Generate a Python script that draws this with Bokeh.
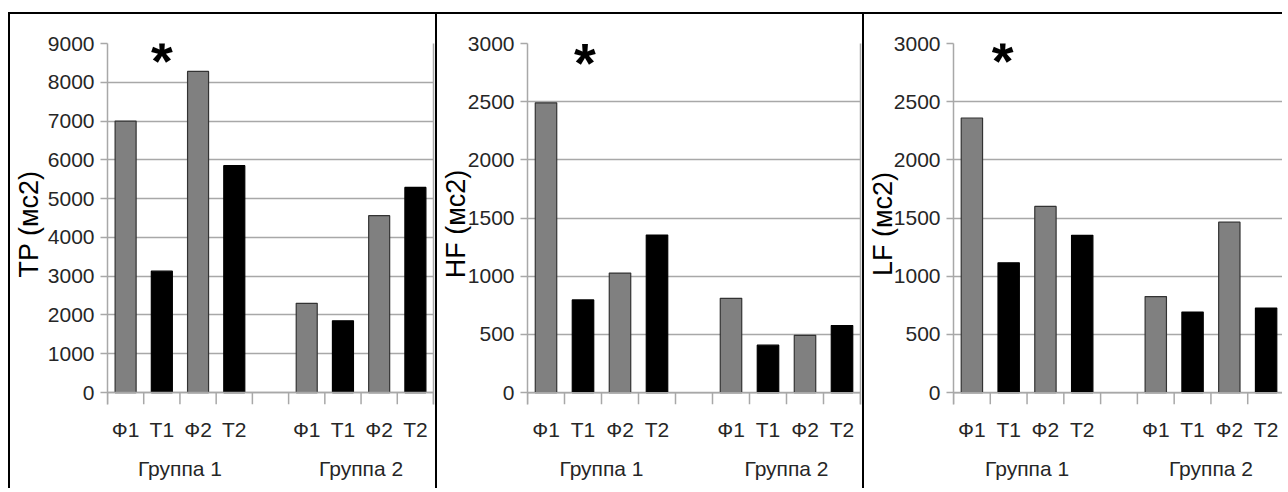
from bokeh.plotting import figure
from bokeh.models import FactorRange, Range1d, LinearAxis, FixedTicker, ColumnDataSource, Span
from bokeh.layouts import row
from bokeh.embed import file_html
from bokeh.resources import INLINE
from bokeh.core.properties import value

groups = ["Группа 1", "Группа 2"]
conditions = ["Ф1", "Т1", "Ф2", "Т2"]
bar_colors = ["#808080", "#000000", "#808080", "#000000"]

tp_values = [7000, 3130, 8280, 5850, 2300, 1850, 4560, 5290]
hf_values = [2490, 797, 1028, 1355, 811, 408, 493, 577]
lf_values = [2360, 1116, 1600, 1352, 826, 693, 1465, 727]

y_titles = ["TP (мс2)", "HF (мс2)", "LF (мс2)"]
y_max = [9000, 3000, 3000]
y_step = [1000, 500, 500]
star_marks = ["*", "*", "*"]

GRID = "#a8a8a8"
LABEL = "#262626"
FONT = "Liberation Sans"
H = 476
TOP = 14  # page y of figure content top


def make_panel(values, title, ymax, ystep, star, width, mbl, mbr, mbt, zero_px,
               star_y, star_dx, title_standoff, right_line, margin_left):
    factors = [(g, c) for g in groups for c in conditions]
    colors = bar_colors * len(groups)
    outline = ["#333333" if c != "#000000" else "#000000" for c in colors]
    frame_bottom = zero_px + 12
    frame_h = frame_bottom - (mbt + TOP)
    zero_h = zero_px - (mbt + TOP)
    ymin = -ymax * (frame_h - zero_h) / zero_h
    p = figure(
        x_range=FactorRange(*factors, factor_padding=0, group_padding=1, range_padding=0),
        y_range=Range1d(ymin, ymax),
        width=width, height=H,
        output_backend="svg", toolbar_location=None,
        min_border_left=mbl, min_border_right=mbr, min_border_top=mbt,
        min_border_bottom=H - (frame_bottom - TOP),
        outline_line_color=None,
    )
    p.styles = {"border-left": "2px solid black", "border-top": "2px solid black",
                "margin-top": "12px", "margin-left": margin_left}
    src = ColumnDataSource(dict(x=factors, top=values, color=colors, line=outline))
    p.vbar(x="x", top="top", width=0.58, source=src, fill_color="color",
           line_color="line", line_width=1.2)

    # zero line and boundary ticks between categories
    p.add_layout(Span(location=0, dimension="width", line_color=GRID, line_width=1.5))
    bx = [(g, c, -0.5) for g in groups for c in conditions]
    bx += [(g, conditions[-1], 0.5) for g in groups]
    p.segment(x0=bx, y0=[0] * len(bx), x1=bx, y1=[ymin] * len(bx),
              line_color=GRID, line_width=1.5)

    p.text(x=[(groups[0], conditions[1])], y=[star_y], text=[star],
           text_font=value(FONT), text_font_size="56px",
           text_font_style="bold", text_align="center", text_baseline="middle",
           x_offset=star_dx, text_color="#000000")

    ticks = list(range(0, ymax + 1, ystep))
    p.yaxis.ticker = FixedTicker(ticks=ticks)
    p.ygrid.ticker = FixedTicker(ticks=ticks)
    p.ygrid.grid_line_color = GRID
    p.ygrid.grid_line_width = 1.5
    p.xgrid.grid_line_color = None
    yax = p.yaxis[0]
    yax.axis_line_color = GRID
    yax.axis_line_width = 1.5
    yax.major_tick_line_color = GRID
    yax.major_tick_line_width = 1.5
    yax.major_tick_out = 7
    yax.major_tick_in = 0
    yax.minor_tick_line_color = None
    yax.major_label_standoff = 6
    yax.major_label_text_font = FONT
    yax.major_label_text_font_size = "21px"
    yax.major_label_text_color = LABEL
    yax.axis_label = title
    yax.axis_label_text_font = FONT
    yax.axis_label_text_font_size = "27px"
    yax.axis_label_text_font_style = "normal"
    yax.axis_label_text_color = "#000000"
    yax.axis_label_standoff = title_standoff

    xax = p.xaxis[0]
    xax.axis_line_color = None
    xax.major_tick_line_color = None
    xax.major_tick_out = 0
    xax.major_tick_in = 0
    xax.major_label_standoff = 13
    xax.major_label_text_font = FONT
    xax.major_label_text_font_size = "21px"
    xax.major_label_text_color = LABEL
    xax.group_text_font = FONT
    xax.group_text_font_size = "21px"
    xax.group_text_color = LABEL
    xax.group_text_font_style = "normal"
    xax.separator_line_color = None

    if right_line:
        p.add_layout(LinearAxis(ticker=FixedTicker(ticks=[]), axis_line_color=GRID,
                                axis_line_width=1.5, major_tick_line_color=None,
                                minor_tick_line_color=None, major_tick_out=0,
                                major_tick_in=0), "right")
    return p


p1 = make_panel(tp_values, y_titles[0], y_max[0], y_step[0], star_marks[0],
                427, 91, 4, 27, 392, 8560, 0, 1, True, "8px")
p2 = make_panel(hf_values, y_titles[1], y_max[1], y_step[1], star_marks[1],
                427, 82, 4, 27, 396, 2840, 2, -6, True, "0px")
p3 = make_panel(lf_values, y_titles[2], y_max[2], y_step[2], star_marks[2],
                420, 86, 0, 29, 398, 2850, -6, -7, False, "0px")

layout = row(p1, p2, p3, spacing=0)
open("out.html", "w").write(file_html(layout, INLINE))
